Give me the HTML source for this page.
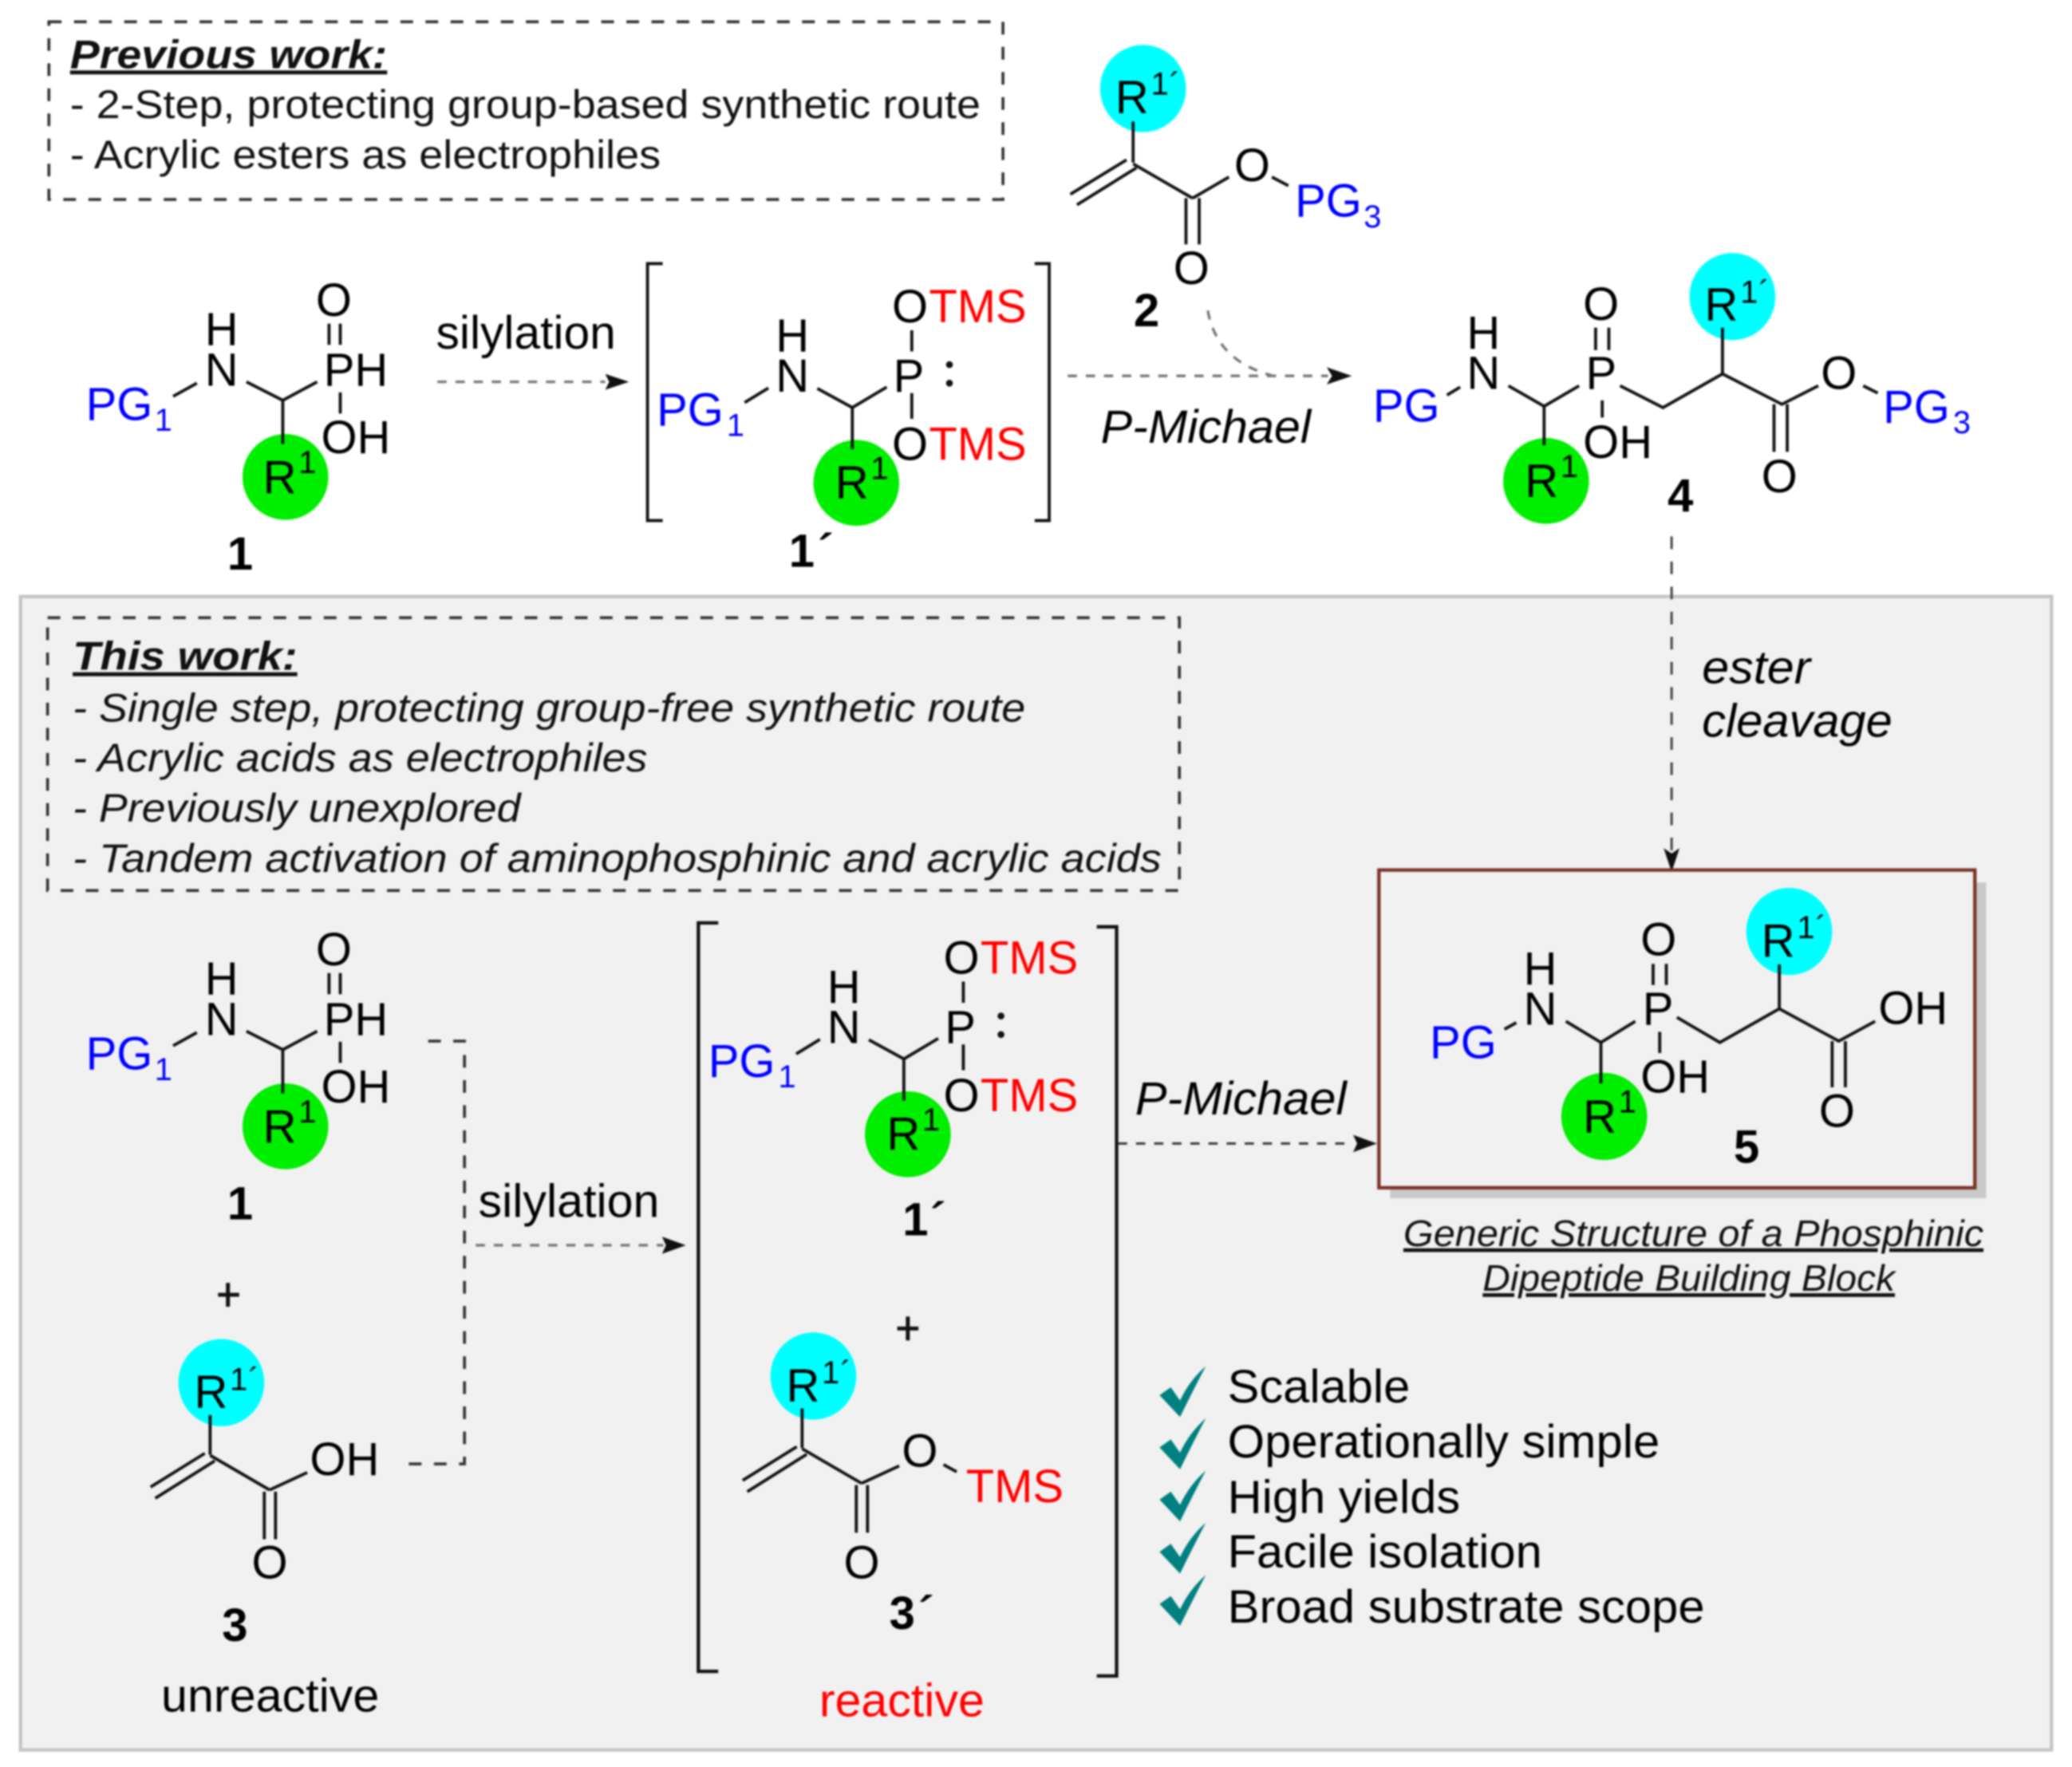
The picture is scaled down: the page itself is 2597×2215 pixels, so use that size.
<!DOCTYPE html>
<html><head><meta charset="utf-8"><title>Phosphinic dipeptide synthesis</title>
<style>
html,body{margin:0;padding:0;background:#fff;width:2597px;height:2215px;overflow:hidden}
svg{display:block;filter:blur(1.1px)}
text{font-family:"Liberation Sans",Arial,sans-serif;font-size:35px;fill:#000}
.s{font-size:24px}
.b{fill:#0000ff}
.r{fill:#ff0000}
.bd{font-weight:bold}
.i{font-style:italic}
.t{font-size:30px;fill:#111}
.bond{stroke:#111;stroke-width:2.3;fill:none}
.dash{stroke:#333;stroke-width:2.2;fill:none;stroke-dasharray:9.6 9.4}
.adash{stroke:#777;stroke-width:2;fill:none;stroke-dasharray:7 6.7}
</style></head><body>
<svg width="2597" height="2215" viewBox="0 0 1568 1337.4" preserveAspectRatio="none" xmlns="http://www.w3.org/2000/svg">
<rect width="1568" height="1337.4" fill="#fff"/>

<!-- panel -->
<rect x="15.5" y="451.5" width="1537" height="873" fill="#f1f1f1" stroke="#c4c4c4" stroke-width="2.6"/>

<!-- previous work box -->
<rect x="37" y="16.5" width="722" height="134.5" class="dash"/>
<text x="53" y="51.5" class="t bd i" text-decoration="underline" textLength="240" lengthAdjust="spacingAndGlyphs">Previous work:</text>
<text x="53" y="89.5" class="t" textLength="689" lengthAdjust="spacingAndGlyphs">- 2-Step, protecting group-based synthetic route</text>
<text x="53" y="127.5" class="t" textLength="447" lengthAdjust="spacingAndGlyphs">- Acrylic esters as electrophiles</text>

<!-- this work box -->
<rect x="36" y="467.5" width="856.5" height="206.5" class="dash"/>
<text x="55" y="507" class="t bd i" text-decoration="underline" textLength="170" lengthAdjust="spacingAndGlyphs">This work:</text>
<text x="55" y="546" class="t i" textLength="721" lengthAdjust="spacingAndGlyphs">- Single step, protecting group-free synthetic route</text>
<text x="55" y="584" class="t i" textLength="435" lengthAdjust="spacingAndGlyphs">- Acrylic acids as electrophiles</text>
<text x="55" y="622" class="t i" textLength="339" lengthAdjust="spacingAndGlyphs">- Previously unexplored</text>
<text x="55" y="660" class="t i" textLength="824" lengthAdjust="spacingAndGlyphs">- Tandem activation of aminophosphinic and acrylic acids</text>

<!-- compound 1 top -->
<g>
<ellipse cx="216" cy="361" rx="32.5" ry="32.5" fill="#00ee00"/>
<path class="bond" d="M131 300L149 290M186.5 289L214 303L240 289M214 303V336M249 245V261M257.5 245V261M257.5 297V313"/>
<text x="65" y="318" class="b">PG</text><text x="117" y="326" class="s b">1</text>
<text x="155" y="261">H</text><text x="155" y="292">N</text>
<text x="239" y="239">O</text><text x="245" y="292">PH</text><text x="243" y="343">OH</text>
<text x="199" y="373">R</text><text x="226" y="358" class="s">1</text>
</g>
<text x="172" y="431" class="bd">1</text>

<!-- arrow silylation top -->
<text x="330" y="264" textLength="136" lengthAdjust="spacingAndGlyphs">silylation</text>
<path class="adash" d="M331 289H458"/>
<path d="M476 289L458 283L461 289L458 295Z" fill="#111"/>

<!-- 1' top -->
<path class="bond" d="M501.5 199.5H490V394H501.5M783 199.5H794V394H783" stroke-width="2.4"/>
<g>
<ellipse cx="648" cy="365.5" rx="32.5" ry="32.5" fill="#00ee00"/>
<path class="bond" d="M563.5 304.7L581.5 293.7M618.5 294L645 308.5L671 293M645 308.5V340M690 250V266M690 297.5V317"/>
<text x="497" y="322" class="b">PG</text><text x="550" y="330" class="s b">1</text>
<text x="587" y="266">H</text><text x="587" y="296.5">N</text>
<text x="676" y="296.5">P</text><text x="675" y="244">O</text><text x="703" y="244" class="r">TMS</text>
<text x="675" y="348">O</text><text x="703" y="348" class="r">TMS</text>
<text x="632" y="377">R</text><text x="659" y="362.5" class="s">1</text>
<circle cx="718.5" cy="276" r="2.6" fill="#111"/><circle cx="718.5" cy="290" r="2.6" fill="#111"/>
</g>
<text x="597" y="429" class="bd">1</text><text x="616" y="429" class="bd i">´</text>

<!-- compound 2 -->
<ellipse cx="865" cy="67" rx="32.5" ry="33" fill="#00ffff"/>
<path class="bond" d="M857.5 92V123M852.5 121L810 147M860 127L815 155M857.5 124L902.5 150M897.5 150V185M907.5 150V185M902.5 150L930 134M962.5 134L975 140.6"/>
<text x="844" y="85.5">R</text><text x="871" y="71.5" class="s">1</text><text x="885" y="72" class="s">´</text>
<text x="934" y="137">O</text>
<text x="980" y="164" class="b">PG</text><text x="1032" y="172" class="s b">3</text>
<text x="888" y="215">O</text>
<text x="858" y="247" class="bd">2</text>

<!-- P-Michael top arrow -->
<path class="adash" d="M808 284.5H1005"/>
<path class="adash" d="M914 235C918 258 932 276 962 284" stroke-width="1.6"/>
<path d="M1023 284.5L1004 278L1008 284.5L1004 291Z" fill="#111"/>
<text x="833" y="335" class="i" textLength="159" lengthAdjust="spacingAndGlyphs">P-Michael</text>

<!-- compound 4 -->
<ellipse cx="1311" cy="224.5" rx="32.5" ry="33" fill="#00ffff"/>
<ellipse cx="1170" cy="364" rx="32.5" ry="32.5" fill="#00ee00"/>
<path class="bond" d="M1095 299L1105 293M1141.5 292L1168.5 307.5L1195 292M1168.5 307.5V337M1207.5 248V265M1217.5 248V265M1212.5 303V316M1226 292L1258.5 308.5L1303.5 283L1348.5 306L1376 292M1303.5 283V248M1342.5 306V342M1352.5 306V342M1410 292L1421 297.5"/>
<text x="1039" y="319" class="b">PG</text>
<text x="1110" y="264">H</text><text x="1110" y="294.5">N</text>
<text x="1198" y="242">O</text><text x="1200" y="294.5">P</text><text x="1198" y="346.5">OH</text>
<text x="1154" y="376">R</text><text x="1181" y="361" class="s">1</text>
<text x="1290" y="242.5">R</text><text x="1317" y="229" class="s">1</text><text x="1331" y="229" class="s">´</text>
<text x="1378" y="294.5">O</text>
<text x="1425" y="320" class="b">PG</text><text x="1478" y="328" class="s b">3</text>
<text x="1333" y="372.5">O</text>
<text x="1262" y="387" class="bd">4</text>

<!-- ester cleavage -->
<path class="dash" d="M1265 406V645" style="stroke-width:1.8;stroke:#444"/>
<path d="M1265 660L1259 642L1265 646L1271 642Z" fill="#111"/>
<text x="1288" y="517" class="i" textLength="82" lengthAdjust="spacingAndGlyphs">ester</text>
<text x="1288" y="557.5" class="i" textLength="144" lengthAdjust="spacingAndGlyphs">cleavage</text>

<!-- product box 5 -->
<rect x="1052" y="668" width="451" height="239" fill="#c9c9c9"/>
<rect x="1043.5" y="658.5" width="451" height="240.5" fill="#f1f1f1" stroke="#7a3228" stroke-width="2.6"/>
<ellipse cx="1354" cy="705" rx="32.5" ry="33" fill="#00ffff"/>
<ellipse cx="1214" cy="845" rx="32.5" ry="33" fill="#00ee00"/>
<path class="bond" d="M1138.5 779L1147.5 774M1185 773L1211.5 789L1237.5 773M1211.5 789V820M1251 729.5V745.5M1261 729.5V745.5M1256 781V797M1269 770L1301.5 789L1346.5 763.5L1391.5 788L1419 773M1346.5 763.5V730M1386.5 788V823M1396.5 788V823"/>
<text x="1082" y="801" class="b">PG</text>
<text x="1153" y="745">H</text><text x="1153" y="775.5">N</text>
<text x="1241.5" y="723">O</text><text x="1243" y="775.5">P</text><text x="1241.5" y="827">OH</text>
<text x="1198" y="857">R</text><text x="1225" y="842" class="s">1</text>
<text x="1333" y="724">R</text><text x="1360" y="710" class="s">1</text><text x="1374" y="710" class="s">´</text>
<text x="1421.5" y="775">OH</text>
<text x="1376.5" y="853">O</text>
<text x="1312" y="880" class="bd">5</text>

<!-- caption -->
<text x="1062" y="943" class="i" style="font-size:28px;fill:#111" text-decoration="underline" textLength="439" lengthAdjust="spacingAndGlyphs">Generic Structure of a Phosphinic </text>
<text x="1122" y="977" class="i" style="font-size:28px;fill:#111" text-decoration="underline" textLength="312" lengthAdjust="spacingAndGlyphs">Dipeptide Building Block</text>

<!-- compound 1 bottom -->
<g transform="translate(0,491.5)">
<ellipse cx="216" cy="361" rx="32.5" ry="32.5" fill="#00ee00"/>
<path class="bond" d="M131 300L149 290M186.5 289L214 303L240 289M214 303V336M249 245V261M257.5 245V261M257.5 297V313"/>
<text x="65" y="318" class="b">PG</text><text x="117" y="326" class="s b">1</text>
<text x="155" y="261">H</text><text x="155" y="292">N</text>
<text x="239" y="239">O</text><text x="245" y="292">PH</text><text x="243" y="343">OH</text>
<text x="199" y="373">R</text><text x="226" y="358" class="s">1</text>
</g>
<text x="172" y="923" class="bd">1</text>
<path class="bond" d="M165 980H181M172.5 971V989" style="stroke-width:3"/>

<!-- compound 3 -->
<ellipse cx="167.5" cy="1046.5" rx="32.5" ry="33" fill="#00ffff"/>
<path class="bond" d="M159 1071V1101M155 1100L114 1125.5M162.5 1105.7L117.5 1134M159 1101.5L204 1127.7M200 1129V1165M208.5 1129V1165M204 1127.7L232.5 1114.5"/>
<text x="147" y="1065.5">R</text><text x="174" y="1052" class="s">1</text><text x="188" y="1052" class="s">´</text>
<text x="234.5" y="1116.5">OH</text>
<text x="190.5" y="1194.5">O</text>
<text x="168" y="1242" class="bd">3</text>
<text x="122" y="1295.5" textLength="165" lengthAdjust="spacingAndGlyphs">unreactive</text>

<!-- dashed connector -->
<path class="dash" d="M324 788H351.5V1108H309"/>

<!-- silylation bottom -->
<text x="362" y="921" textLength="137" lengthAdjust="spacingAndGlyphs">silylation</text>
<path class="adash" d="M360 942.5H502"/>
<path d="M519 942.5L501 936L504 942.5L501 949Z" fill="#111"/>

<!-- bracket bottom -->
<path class="bond" d="M543.5 698.5H528.5V1265H543.5M830 701.5H845V1268.5H830" style="stroke-width:2.6"/>

<!-- 1' bottom -->
<g transform="translate(39,493)">
<ellipse cx="648" cy="365.5" rx="32.5" ry="32.5" fill="#00ee00"/>
<path class="bond" d="M563.5 304.7L581.5 293.7M618.5 294L645 308.5L671 293M645 308.5V340M690 250V266M690 297.5V317"/>
<text x="497" y="322" class="b">PG</text><text x="550" y="330" class="s b">1</text>
<text x="587" y="266">H</text><text x="587" y="296.5">N</text>
<text x="676" y="296.5">P</text><text x="675" y="244">O</text><text x="703" y="244" class="r">TMS</text>
<text x="675" y="348">O</text><text x="703" y="348" class="r">TMS</text>
<text x="632" y="377">R</text><text x="659" y="362.5" class="s">1</text>
<circle cx="718.5" cy="276" r="2.6" fill="#111"/><circle cx="718.5" cy="290" r="2.6" fill="#111"/>
</g>
<text x="683" y="935" class="bd">1</text><text x="701" y="935" class="bd i">´</text>
<path class="bond" d="M679 1005.5H695M687 996.5V1014.5" style="stroke-width:3"/>

<!-- compound 3' -->
<g transform="translate(448,-5)">
<ellipse cx="167.5" cy="1046.5" rx="32.5" ry="33" fill="#00ffff"/>
<path class="bond" d="M159 1071V1101M155 1100L114 1125.5M162.5 1105.7L117.5 1134M159 1101.5L204 1127.7M200 1129V1165M208.5 1129V1165M204 1127.7L232.5 1114.5M266 1113.5L276 1119"/>
<text x="147" y="1065.5">R</text><text x="174" y="1052" class="s">1</text><text x="188" y="1052" class="s">´</text>
<text x="234.5" y="1115">O</text>
<text x="190.5" y="1199.5">O</text>
</g>
<text x="731" y="1137" class="r">TMS</text>
<text x="673" y="1233" class="bd">3</text><text x="692" y="1233" class="bd i">´</text>
<text x="620" y="1299" class="r" textLength="125" lengthAdjust="spacingAndGlyphs">reactive</text>

<!-- P-Michael bottom -->
<text x="859" y="843.5" class="i" textLength="160" lengthAdjust="spacingAndGlyphs">P-Michael</text>
<path class="dash" d="M846 865.5H1024" style="stroke-dasharray:7 6.7;stroke-width:1.8"/>
<path d="M1042 865.5L1024 859L1027 865.5L1024 872Z" fill="#111"/>

<!-- checks -->
<g fill="#008080">
<path d="M877.5 1056L886 1050L893 1060Q900 1045 912.5 1034Q903 1052 893 1072.5Z"/>
<path transform="translate(0,39.5)" d="M877.5 1056L886 1050L893 1060Q900 1045 912.5 1034Q903 1052 893 1072.5Z"/>
<path transform="translate(0,79)" d="M877.5 1056L886 1050L893 1060Q900 1045 912.5 1034Q903 1052 893 1072.5Z"/>
<path transform="translate(0,118.5)" d="M877.5 1056L886 1050L893 1060Q900 1045 912.5 1034Q903 1052 893 1072.5Z"/>
<path transform="translate(0,158)" d="M877.5 1056L886 1050L893 1060Q900 1045 912.5 1034Q903 1052 893 1072.5Z"/>
</g>
<text x="929" y="1061.5" textLength="138" lengthAdjust="spacingAndGlyphs">Scalable</text>
<text x="929" y="1103" textLength="327" lengthAdjust="spacingAndGlyphs">Operationally simple</text>
<text x="929" y="1145" textLength="176" lengthAdjust="spacingAndGlyphs">High yields</text>
<text x="929" y="1186.5" textLength="238" lengthAdjust="spacingAndGlyphs">Facile isolation</text>
<text x="929" y="1228" textLength="361" lengthAdjust="spacingAndGlyphs">Broad substrate scope</text>
</svg>
</body></html>
